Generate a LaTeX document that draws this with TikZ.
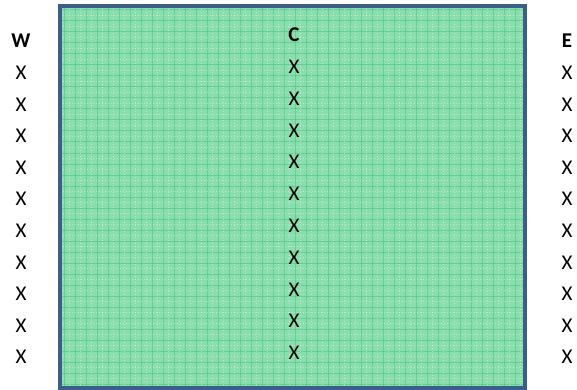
\documentclass[tikz,border=0pt]{standalone}
\usepackage{fontspec}
\setmainfont{Carlito}
\usetikzlibrary{positioning}

\definecolor{frameblue}{RGB}{61,94,138}
\definecolor{fieldgreen}{RGB}{138,222,174}
\definecolor{gridgreen}{RGB}{60,190,118}

\tikzset{
  mark label/.style={inner sep=0pt, text height=13pt, text depth=0pt, font=\fontsize{21}{21}\selectfont},
  head label/.style={mark label, font=\fontsize{21}{21}\selectfont\bfseries}
}

\begin{document}
\begin{tikzpicture}[x=1pt, y=-1pt]
\useasboundingbox (0,0) rectangle (577,390);

% field
\fill[fieldgreen] (60,6) rectangle (525,388);
\begin{scope}
\clip (60,6) rectangle (525,388);
\foreach \gx in {64,75,...,525} \draw[gridgreen, line width=1pt, opacity=0.45] (\gx,6) -- (\gx,388);
\foreach \gy in {10,21,...,388} \draw[gridgreen, line width=1pt, opacity=0.45] (60,\gy) -- (525,\gy);
\foreach \gx in {69.5,80.5,...,525} \draw[white, line width=0.7pt, opacity=0.4, dash pattern=on 1pt off 2pt] (\gx,6) -- (\gx,388);
\foreach \gy in {15.5,26.5,...,388} \draw[white, line width=0.7pt, opacity=0.4, dash pattern=on 1pt off 2pt] (60,\gy) -- (525,\gy);
\end{scope}
\draw[frameblue, line width=4.5pt] (60,6) rectangle (525,388);

% headers
\node[head label] (W) at (21,41) {W};
\node[head label] (C) at (294,35) {C};
\node[head label] (E) at (567,41) {E};

% rows of marks
\foreach \i in {0,...,9} {
  \node[mark label] (w\i) at (21,{73+31.6*\i}) {X};
  \node[mark label] (c\i) at (294,{67+31.8*\i}) {X};
  \node[mark label] (e\i) at (567,{73+31.6*\i}) {X};
}

\end{tikzpicture}
\end{document}
